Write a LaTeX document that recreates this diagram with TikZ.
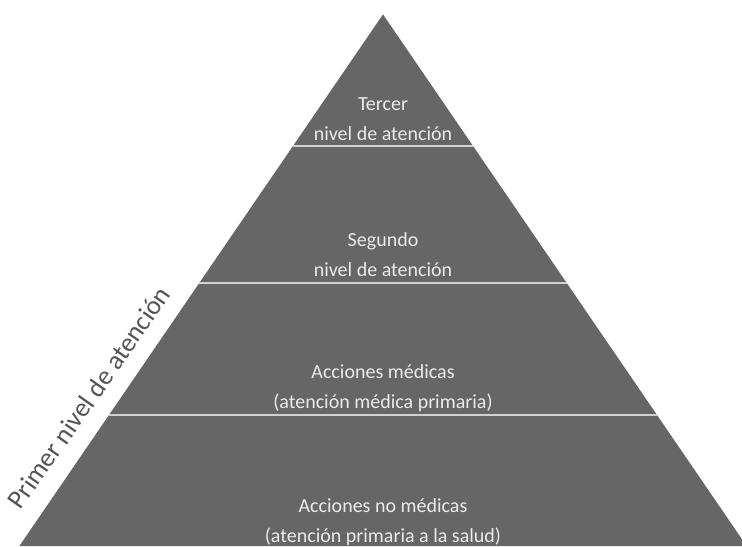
\documentclass[tikz,border=0pt]{standalone}
\usepackage{fontspec}
\setmainfont{Carlito}
\usetikzlibrary{calc}

\tikzset{
  level/.style={text=black!8, align=center, font=\fontsize{15}{22.5}\selectfont},
  divider/.style={draw=black!18, line width=1.5pt}
}

\begin{document}
\begin{tikzpicture}[x=0.75pt, y=-0.75pt]
\useasboundingbox (0, 0) rectangle (742, 546);
\coordinate (top) at (383, 14.4);
\coordinate (bl) at (19.4, 546);
\coordinate (br) at (746.6, 546);
\begin{scope}
\clip (0, 0) rectangle (742, 546);
\fill[black!60] (top) -- (bl) -- (br) -- cycle;
\draw[divider] ($(top)!0.2476!(bl)$) -- ($(top)!0.2476!(br)$);
\draw[divider] ($(top)!0.5052!(bl)$) -- ($(top)!0.5052!(br)$);
\draw[divider] ($(top)!0.7536!(bl)$) -- ($(top)!0.7536!(br)$);
\end{scope}
\node[level] (tercer) at (383, 119) {Tercer\\nivel de atención};
\node[level] (segundo) at (383, 255) {Segundo\\nivel de atención};
\node[level] (medicas) at (383, 388) {Acciones médicas\\(atención médica primaria)};
\node[level] (nomedicas) at (383, 522) {Acciones no médicas\\(atención primaria a la salud)};
\coordinate (foot) at ($(top)!0.749!(bl)$);
\node[text=black!67, font=\fontsize{20}{22}\selectfont, rotate=55, inner sep=0pt]
  (primer) at ($(foot)!19.8pt!90:(top)$) {Primer nivel de atención};
\end{tikzpicture}
\end{document}
